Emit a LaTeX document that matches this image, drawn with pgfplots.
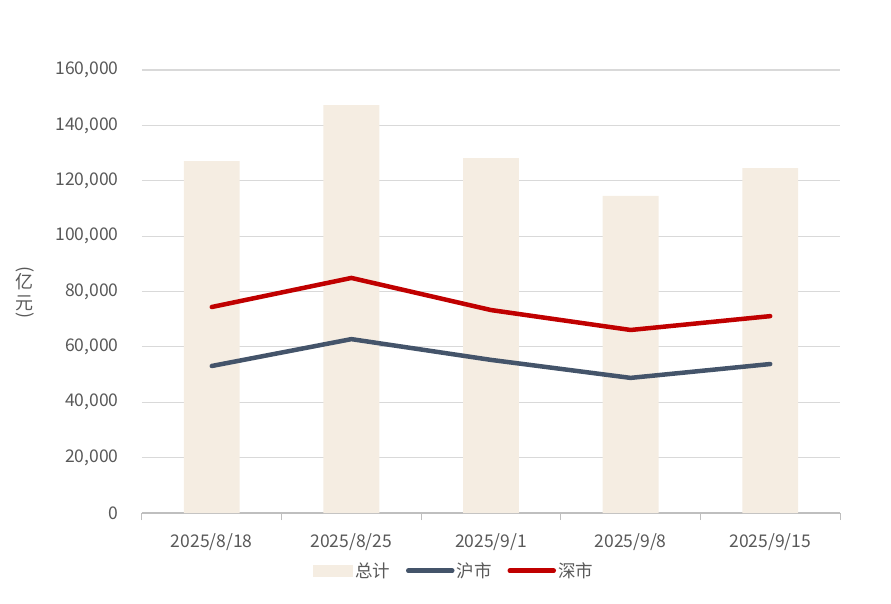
\documentclass[border=0pt]{standalone}
\usepackage{fontspec}
\setmainfont{Noto Sans CJK SC}
\usepackage{pgfplots}
\pgfplotsset{compat=1.18}
\definecolor{barc}{HTML}{F5EDE2}
\definecolor{shc}{HTML}{44546A}
\definecolor{szc}{HTML}{C00000}
\definecolor{gridc}{HTML}{D9D9D9}
\definecolor{axc}{HTML}{BFBFBF}
\definecolor{txtc}{HTML}{595959}
\pgfplotsset{
  barleg/.style={legend image code/.code={\fill[barc] (0pt,-6pt) rectangle (40pt,6pt);}},
  lineleg/.style={legend image code/.code={\draw[##1] (0pt,0pt) -- (44pt,0pt);}},
}
\tikzset{ylab/.style={text=txtc, font=\fontsize{18}{20}\selectfont, inner sep=0pt, anchor=center}}
\begin{document}
\begin{tikzpicture}[x=1pt,y=1pt]
\useasboundingbox (-142,-90) rectangle (749,513);
\begin{axis}[
  at={(0,0)}, anchor=south west,
  scale only axis, width=698pt, height=443pt,
  xmin=-0.5, xmax=4.5, ymin=0, ymax=160000,
  clip=false,
  scaled y ticks=false,
  ytick={0,20000,40000,60000,80000,100000,120000,140000,160000},
  yticklabels={0,{20,000},{40,000},{60,000},{80,000},{100,000},{120,000},{140,000},{160,000}},
  xtick={0,1,2,3,4},
  xticklabels={2025/8/18,2025/8/25,2025/9/1,2025/9/8,2025/9/15},
  minor xtick={-0.5,0.5,1.5,2.5,3.5,4.5},
  major tick length=0pt,
  minor tick length=7pt,
  tick align=outside,
  minor x tick style={draw=axc, line width=1pt},
  axis x line*=bottom,
  axis y line*=left,
  y axis line style={draw=none},
  x axis line style={draw=axc, line width=1.2pt},
  ymajorgrids, grid style={draw=gridc, line width=1.2pt},
  tick label style={font=\fontsize{17.5}{20}\selectfont, text=txtc},
  yticklabel style={xshift=-20pt},
  xticklabel style={yshift=-17pt},
  legend columns=3,
  legend style={at={(0.447,-0.13)}, anchor=center, draw=none,
    font=\fontsize{17.5}{20}\selectfont, text=txtc,
    /tikz/every even column/.append style={column sep=14pt}},
]
\addplot[ybar, bar width=0.4, bar shift=0pt, fill=barc, draw=none, barleg]
  coordinates {(0,127100) (1,147300) (2,128200) (3,114500) (4,124600)};
\addlegendentry{总计}
\addplot[draw=shc, line width=4.5pt, line cap=round, line join=round, mark=none, lineleg]
  coordinates {(0,53100) (1,62800) (2,55300) (3,48800) (4,53800)};
\addlegendentry{沪市}
\addplot[draw=szc, line width=4.5pt, line cap=round, line join=round, mark=none, lineleg]
  coordinates {(0,74400) (1,84900) (2,73300) (3,66100) (4,71100)};
\addlegendentry{深市}
\node[ylab, xshift=-117pt, yshift=22pt, rotate=-90] at (rel axis cs:0,0.5) {(};
\node[ylab, xshift=-117pt, yshift=10pt] at (rel axis cs:0,0.5) {亿};
\node[ylab, xshift=-117pt, yshift=-12pt] at (rel axis cs:0,0.5) {元};
\node[ylab, xshift=-117pt, yshift=-24pt, rotate=-90] at (rel axis cs:0,0.5) {)};
\end{axis}
\end{tikzpicture}
\end{document}
